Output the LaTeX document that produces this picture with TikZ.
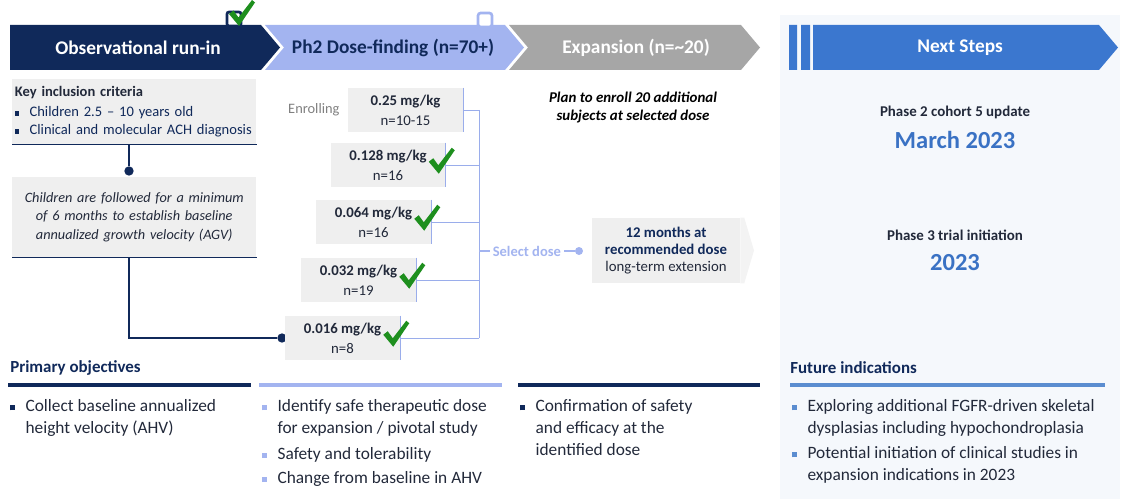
\documentclass[tikz,border=0pt]{standalone}
\usepackage{fontspec}
\setmainfont{Carlito}
\usetikzlibrary{positioning,calc}
\definecolor{cNavy}{HTML}{10295A}
\definecolor{cLav}{HTML}{A3B4F0}
\definecolor{cSteel}{HTML}{A6A6A6}
\definecolor{cBlue}{HTML}{3B77CF}
\definecolor{cMid}{HTML}{3A72C4}
\definecolor{cSky}{HTML}{5B8DD0}
\definecolor{cPanel}{HTML}{F5F8FC}
\definecolor{cBox}{HTML}{EFEFEF}
\definecolor{cBrk}{HTML}{9AADEB}
\definecolor{cInk}{HTML}{22293A}
\definecolor{cDim}{HTML}{808080}
\definecolor{cGreen}{HTML}{1E8F1E}
\definecolor{cFaint}{HTML}{F3F3F3}
\newcommand{\fs}[2]{\fontsize{#1}{#2}\selectfont}
\newcommand{\blt}[2][11.5pt]{\makebox[#1][l]{{\color{#2}\rule[0.08em]{0.3em}{0.3em}}}}
\tikzset{
  hdr/.style={font=\fs{14.5}{17}\bfseries,text=white,inner sep=0pt},
  gbox/.style={fill=cBox,anchor=north west,minimum width=183pt,inner sep=2pt,text=cInk},
  dose/.style={fill=cBox,minimum width=86.25pt,minimum height=33pt,align=center,inner sep=0pt,font=\fs{11.1}{15},text=cInk},
  brk/.style={draw=cBrk,line width=0.6pt},
  lnk/.style={draw=cNavy,line width=0.9pt},
  dot/.style={circle,fill=#1,inner sep=0pt,minimum size=7pt},
  lst/.style={anchor=north west,inner sep=0pt,font=\fs{13}{16.5},text=cInk},
  objhd/.style={anchor=west,inner sep=0pt,font=\fs{12.7}{15}\bfseries,text=cNavy},
  objline/.style={draw=#1,line width=3pt},
  nxt/.style={font=\fs{11.2}{13}\bfseries,text=cInk},
  nxtdate/.style={font=\fs{18.4}{22}\bfseries,text=cMid},
  tick/.pic={\fill[cGreen] (0,14) -- (4.5,10.5) -- (9.5,17.5) -- (23,0) -- (26,2.5) -- (10,26) -- cycle;},
}
\begin{document}
\begin{tikzpicture}[x=0.75pt,y=-0.75pt]
  \useasboundingbox (0,0) rectangle (1123,499);
  \fill[cPanel] (780,15) rectangle (1120,499);

  % phase bar
  \fill[cNavy] (10,25) -- (261,25) -- (280,47.5) -- (261,70) -- (10,70) -- cycle;
  \fill[cLav] (265,25) -- (505,25) -- (524,47.5) -- (505,70) -- (265,70) -- (284,47.5) -- cycle;
  \fill[cSteel] (509,25) -- (741,25) -- (760,47.5) -- (741,70) -- (509,70) -- (528,47.5) -- cycle;
  \fill[cBlue] (789,25) rectangle (797,70) (801,25) rectangle (810,70);
  \fill[cBlue] (813,25) -- (1099,25) -- (1118,47.5) -- (1099,70) -- (813,70) -- cycle;
  \node[hdr] (hRun) at (138,48) {Observational run-in};
  \node[hdr,text=cNavy] (hDose) at (393,48) {Ph2 Dose-finding (n=70+)};
  \node[hdr] (hExp) at (636,48) {Expansion (n=\textasciitilde 20)};
  \node[hdr] (hNext) at (960,48) {Next Steps};
  \draw[cNavy,fill=white,line width=2pt,rounded corners=1.5pt] (227,12) rectangle (241,26);
  \pic at (229,0) {tick};
  \draw[cLav,fill=white,line width=2pt,rounded corners=2pt] (478,13) rectangle (492,27);

  % run-in
  \node[gbox,minimum height=48.75pt,text width=179pt,align=left,font=\fs{10.9}{13.5}] (crit) at (12,79)
    {\textbf{Key inclusion criteria}\\[2pt]{\color{cNavy}\blt[11pt]{cNavy}Children 2.5 -- 10 years old}\\{\color{cNavy}\blt[11pt]{cNavy}Clinical and molecular ACH diagnosis}};
  \draw[lnk] (crit.south west) -- (crit.south east);
  \node[dot=cNavy] (dTop) at (129,171) {};
  \draw[lnk] (crit.south -| dTop) -- (dTop);
  \node[gbox,minimum height=60pt,text width=179pt,align=center,font=\fs{10.7}{13.9}\itshape] (agv) at (12,177)
    {Children are followed for a minimum\\of 6 months to establish baseline\\annualized growth velocity (AGV)};
  \draw[lnk] (agv.south west) -- (agv.south east);
  \node[dot=cNavy] (dLow) at (282,338) {};
  \draw[lnk] (agv.south -| dTop) |- (dLow);

  % dose-finding
  \node[dose] (dose250) at (405.5,110) {\textbf{0.25 mg/kg}\\n=10-15};
  \node[dose] (dose128) at (388,165) {\textbf{0.128 mg/kg}\\n=16};
  \node[dose] (dose064) at (373.5,222) {\textbf{0.064 mg/kg}\\n=16};
  \node[dose] (dose032) at (358.5,280) {\textbf{0.032 mg/kg}\\n=19};
  \node[dose] (dose016) at (342.5,338) {\textbf{0.016 mg/kg}\\n=8};
  \node[left=6pt of dose250,inner sep=0pt,font=\fs{10.8}{12},text=cDim] (enr) {Enrolling};
  \coordinate (bx) at (479,251);
  \draw[brk] (dose250.east -| bx) -- (dose016.east -| bx);
  \foreach \d in {dose250,dose128,dose064,dose032,dose016}{
    \draw[brk] (\d.north east) -- (\d.south east);
    \draw[brk] (\d.east) -- (\d.east -| bx);
  }
  \foreach \d in {dose128,dose064,dose032,dose016}
    \pic at ($(\d.north east)+(-17,5)$) {tick};
  \node[dot=cLav,minimum size=6pt] (selDot) at (579,251) {};
  \draw[draw=cLav,line width=0.8pt] (bx) -- node[fill=white,inner sep=2pt,font=\fs{10.9}{12}\bfseries,text=cLav] (sel) {Select dose} (selDot);

  % expansion
  \node[font=\fs{11.2}{13.5}\bfseries\itshape,align=center,text=black,inner sep=0pt] (plan) at (633,108)
    {Plan to enroll 20 additional\\subjects at selected dose};
  \node[fill=cBox,minimum width=111pt,minimum height=48.75pt,align=center,inner sep=0pt,font=\fs{11.1}{12.75},text=cInk] (ext) at (666,250.5)
    {\textbf{\color{cNavy}12 months at}\\\textbf{\color{cNavy}recommended dose}\\long-term extension};
  \fill[cFaint] (ext.north east) -- ++(4,0) -- (754,250.5) -- ($(ext.south east)+(4,0)$) -- (ext.south east) -- cycle;

  % next steps
  \node[nxt] (ph2) at (955,112) {Phase 2 cohort 5 update};
  \node[nxtdate] (ph2d) at (955,140) {March 2023};
  \node[nxt] (ph3) at (955,235) {Phase 3 trial initiation};
  \node[nxtdate] (ph3d) at (955,263) {2023};

  % objectives
  \node[objhd] (objHd) at (10,368) {Primary objectives};
  \node[objhd] (futHd) at (790,368) {Future indications};
  \draw[objline=cNavy] (8,385) -- (251,385);
  \draw[objline=cLav] (259,385) -- (502,385);
  \draw[objline=cNavy] (518,385) -- (760,385);
  \draw[objline=cSky] (790,385) -- (1105,385);
  \node[lst] (objA) at (10,396) {\begin{tabular}{@{}l@{}l@{}}\blt{cNavy}&Collect baseline annualized\\&height velocity (AHV)\end{tabular}};
  \node[lst] (objB) at (262,396) {\begin{tabular}{@{}l@{}l@{}}\blt{cLav}&Identify safe therapeutic dose\\&for expansion / pivotal study\\[2.8pt]\blt{cLav}&Safety and tolerability\\[1.5pt]\blt{cLav}&Change from baseline in AHV\end{tabular}};
  \node[lst] (objC) at (520,396) {\begin{tabular}{@{}l@{}l@{}}\blt{cNavy}&Confirmation of safety\\&and efficacy at the\\&identified dose\end{tabular}};
  \node[lst] (futA) at (792,396) {\begin{tabular}{@{}l@{}l@{}}\blt{cSky}&Exploring additional FGFR-driven skeletal\\&dysplasias including hypochondroplasia\\[2.3pt]\blt{cSky}&Potential initiation of clinical studies in\\&expansion indications in 2023\end{tabular}};
\end{tikzpicture}
\end{document}
